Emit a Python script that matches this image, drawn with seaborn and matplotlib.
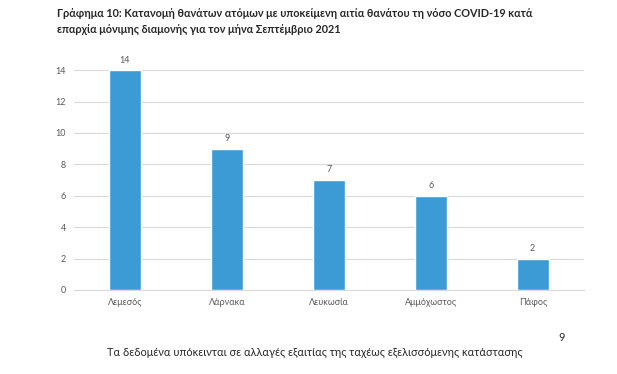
import pandas as pd
import seaborn as sns
import matplotlib.pyplot as plt

districts = ['Λεμεσός', 'Λάρνακα', 'Λευκωσία', 'Αμμόχωστος', 'Πάφος']
deaths = [14, 9, 7, 6, 2]
yticks = [0, 2, 4, 6, 8, 10, 12, 14]

df = pd.DataFrame({'district': districts, 'deaths': deaths})

sns.set_style('white')
plt.rcParams['font.family'] = ['Lato', 'Open Sans', 'DejaVu Sans']

fig = plt.figure(figsize=(6.17, 3.74), dpi=100)
ax = fig.add_axes([0.12, 0.2246, 0.826, 0.588])

sns.barplot(data=df, x='district', y='deaths', color='#3C9BD5', saturation=1,
            width=0.31, ax=ax)

ax.set_ylim(0, 14)
ax.set_yticks(yticks)
ax.grid(axis='y', color='#D9D9D9', linewidth=0.8)
ax.set_axisbelow(True)
sns.despine(ax=ax, left=True)
ax.spines['bottom'].set_color('#D9D9D9')
ax.tick_params(axis='both', length=0, colors='#595959', labelsize=6.5, pad=6)
ax.set_xlabel('')
ax.set_ylabel('')

for p, v in zip(ax.patches, deaths):
    ax.annotate(str(v), (p.get_x() + p.get_width() / 2, v), xytext=(0, 4),
                textcoords='offset points', ha='center', va='bottom',
                fontsize=6.5, color='#595959', annotation_clip=False)

fig.text(0.092, 0.978, 'Γράφημα 10: Κατανομή θανάτων ατόμων με υποκείμενη αιτία θανάτου τη νόσο COVID-19 κατά\n'
         'επαρχία μόνιμης διαμονής για τον μήνα Σεπτέμβριο 2021',
         fontsize=7.85, fontweight='bold', va='top', ha='left', linespacing=1.55)
fig.text(0.173, 0.058, 'Τα δεδομένα υπόκεινται σε αλλαγές εξαιτίας της ταχέως εξελισσόμενης κατάστασης',
         fontsize=7.95, va='center', ha='left')
fig.text(0.905, 0.098, '9', fontsize=7.95, va='center', ha='left')

fig.savefig('out.png', dpi=100)
